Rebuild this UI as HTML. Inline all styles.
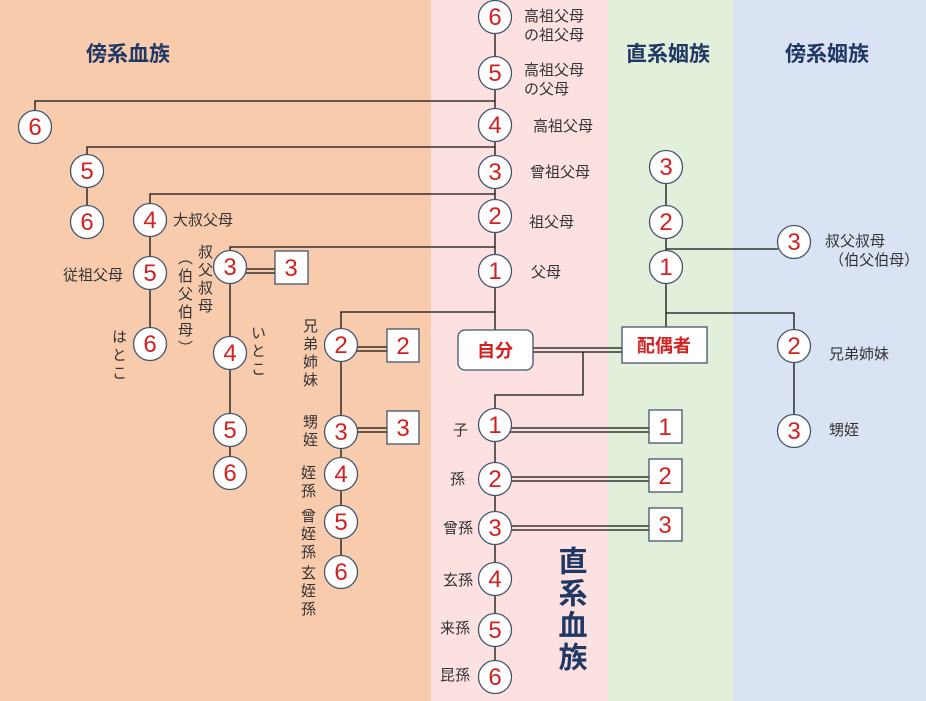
<!DOCTYPE html>
<html><head><meta charset="utf-8"><style>
body{margin:0;width:926px;height:701px;overflow:hidden;position:relative;font-family:"Liberation Sans","Noto Sans CJK JP",sans-serif}
.t{position:absolute;font-size:15px;color:#333;line-height:19px;white-space:nowrap}
.v{position:absolute;font-size:15px;color:#333;writing-mode:vertical-rl;line-height:16px;letter-spacing:3px}
.h{position:absolute;font-size:21px;font-weight:bold;color:#1f3864}
svg{position:absolute;left:0;top:0}
</style></head><body>
<svg width="926" height="701" font-family="Liberation Sans, Noto Sans CJK JP, sans-serif">
<rect x="0" y="0" width="431" height="701" fill="#f8cbad"/>
<rect x="431" y="0" width="177" height="701" fill="#fde0e0"/>
<rect x="608" y="0" width="125" height="701" fill="#e2efda"/>
<rect x="733" y="0" width="193" height="701" fill="#dae3f3"/>
<g stroke="#111" stroke-width="1.3" fill="none">
<line x1="495" y1="17" x2="495" y2="330"/>
<polyline points="35,127 35,101 495,101"/>
<polyline points="87,171 87,147 495,147"/>
<line x1="87" y1="171" x2="87" y2="222"/>
<polyline points="150,220 150,194 495,194"/>
<line x1="150" y1="220" x2="150" y2="344"/>
<polyline points="230,267 230,247 495,247"/>
<line x1="230" y1="267" x2="230" y2="473"/>
<polyline points="341,345 341,312 495,312"/>
<line x1="341" y1="345" x2="341" y2="572"/>
<polyline points="583,352 583,395 495,395 495,677"/>
<line x1="666" y1="167" x2="666" y2="327"/>
<line x1="666" y1="249" x2="778" y2="249"/>
<polyline points="666,313 794,313 794,431"/>
<line x1="230" y1="269" x2="275" y2="269"/><line x1="230" y1="273" x2="275" y2="273"/>
<line x1="341" y1="347" x2="387" y2="347"/><line x1="341" y1="351" x2="387" y2="351"/>
<line x1="341" y1="428" x2="387" y2="428"/><line x1="341" y1="432" x2="387" y2="432"/>
<line x1="533" y1="348" x2="622" y2="348"/><line x1="533" y1="352" x2="622" y2="352"/>
<line x1="495" y1="428" x2="649" y2="428"/><line x1="495" y1="432" x2="649" y2="432"/>
<line x1="495" y1="477" x2="649" y2="477"/><line x1="495" y1="481" x2="649" y2="481"/>
<line x1="495" y1="526" x2="649" y2="526"/><line x1="495" y1="530" x2="649" y2="530"/>
</g>
<g fill="#fff" stroke="#44546a" stroke-width="1.3">
<circle cx="495" cy="17" r="16.5"/><circle cx="495" cy="73" r="16.5"/><circle cx="495" cy="125" r="16.5"/>
<circle cx="495" cy="172" r="16.5"/><circle cx="495" cy="216" r="16.5"/><circle cx="495" cy="271" r="16.5"/>
<circle cx="495" cy="425" r="16.5"/><circle cx="495" cy="479" r="16.5"/><circle cx="495" cy="528" r="16.5"/>
<circle cx="495" cy="579" r="16.5"/><circle cx="495" cy="630" r="16.5"/><circle cx="495" cy="677" r="16.5"/>
<circle cx="35" cy="127" r="16.5"/><circle cx="87" cy="171" r="16.5"/><circle cx="87" cy="222" r="16.5"/>
<circle cx="150" cy="220" r="16.5"/><circle cx="150" cy="273" r="16.5"/><circle cx="150" cy="344" r="16.5"/>
<circle cx="230" cy="267" r="16.5"/><circle cx="230" cy="353" r="16.5"/><circle cx="230" cy="430" r="16.5"/><circle cx="230" cy="473" r="16.5"/>
<circle cx="341" cy="345" r="16.5"/><circle cx="341" cy="432" r="16.5"/><circle cx="341" cy="474" r="16.5"/><circle cx="341" cy="522" r="16.5"/><circle cx="341" cy="572" r="16.5"/>
<circle cx="666" cy="167" r="16.5"/><circle cx="666" cy="222" r="16.5"/><circle cx="666" cy="267" r="16.5"/>
<circle cx="794" cy="242" r="16.5"/><circle cx="794" cy="346" r="16.5"/><circle cx="794" cy="431" r="16.5"/>
<rect x="275" y="251" width="33" height="33"/><rect x="387" y="329" width="32" height="33"/><rect x="387" y="411" width="32" height="33"/>
<rect x="649" y="410" width="33" height="33"/><rect x="649" y="459" width="33" height="33"/><rect x="649" y="508" width="33" height="33"/>
<rect x="458" y="330" width="75" height="40" rx="7"/>
<rect x="622" y="327" width="85" height="36"/>
</g>
<g fill="#d42020" font-size="24" text-anchor="middle">
<text x="495" y="25">6</text><text x="495" y="81">5</text><text x="495" y="133">4</text><text x="495" y="180">3</text><text x="495" y="224">2</text><text x="495" y="279">1</text>
<text x="495" y="433">1</text><text x="495" y="487">2</text><text x="495" y="536">3</text><text x="495" y="587">4</text><text x="495" y="638">5</text><text x="495" y="685">6</text>
<text x="35" y="135">6</text><text x="87" y="179">5</text><text x="87" y="230">6</text>
<text x="150" y="228">4</text><text x="150" y="281">5</text><text x="150" y="352">6</text>
<text x="230" y="275">3</text><text x="230" y="361">4</text><text x="230" y="438">5</text><text x="230" y="481">6</text>
<text x="341" y="353">2</text><text x="341" y="440">3</text><text x="341" y="482">4</text><text x="341" y="530">5</text><text x="341" y="580">6</text>
<text x="666" y="175">3</text><text x="666" y="230">2</text><text x="666" y="275">1</text>
<text x="794" y="250">3</text><text x="794" y="354">2</text><text x="794" y="439">3</text>
<text x="291" y="276">3</text><text x="403" y="354">2</text><text x="403" y="436">3</text>
<text x="665" y="435">1</text><text x="665" y="484">2</text><text x="665" y="533">3</text>
<text x="495" y="357" font-size="18" font-weight="bold">自分</text>
<text x="664" y="352" font-size="18" font-weight="bold">配偶者</text>
</g>
</svg>
<div class="h" style="left:86px;top:38px">傍系血族</div>
<div class="h" style="left:626px;top:38px">直系姻族</div>
<div class="h" style="left:785px;top:38px">傍系姻族</div>
<div class="h" style="left:554px;top:546px;writing-mode:vertical-rl;font-size:29px;line-height:32px;letter-spacing:3px">直系血族</div>
<div class="t" style="left:524px;top:7px">高祖父母<br>の祖父母</div>
<div class="t" style="left:524px;top:61px">高祖父母<br>の父母</div>
<div class="t" style="left:533px;top:117px">高祖父母</div>
<div class="t" style="left:530px;top:163px">曾祖父母</div>
<div class="t" style="left:529px;top:213px">祖父母</div>
<div class="t" style="left:531px;top:263px">父母</div>
<div class="t" style="left:453px;top:421px">子</div>
<div class="t" style="left:450px;top:470px">孫</div>
<div class="t" style="left:443px;top:519px">曾孫</div>
<div class="t" style="left:443px;top:571px">玄孫</div>
<div class="t" style="left:440px;top:619px">来孫</div>
<div class="t" style="left:440px;top:666px">昆孫</div>
<div class="t" style="left:173px;top:211px">大叔父母</div>
<div class="t" style="left:63px;top:266px">従祖父母</div>
<div class="t" style="left:825px;top:232px">叔父叔母<br>&nbsp;（伯父伯母）</div>
<div class="t" style="left:829px;top:345px">兄弟姉妹</div>
<div class="t" style="left:829px;top:421px">甥姪</div>
<div class="v" style="left:196px;top:244px">叔父叔母</div>
<div class="v" style="left:176px;top:250px">（伯父伯母）</div>
<div class="v" style="left:110px;top:329px">はとこ</div>
<div class="v" style="left:249px;top:325px">いとこ</div>
<div class="v" style="left:301px;top:318px">兄弟姉妹</div>
<div class="v" style="left:301px;top:414px">甥姪</div>
<div class="v" style="left:299px;top:465px">姪孫</div>
<div class="v" style="left:299px;top:508px">曾姪孫</div>
<div class="v" style="left:299px;top:565px">玄姪孫</div>
</body></html>
